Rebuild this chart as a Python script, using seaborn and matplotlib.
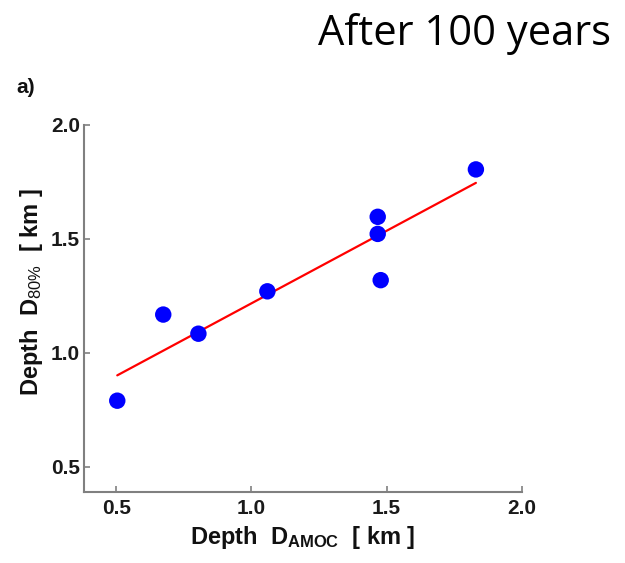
import matplotlib
matplotlib.use("Agg")
import matplotlib.pyplot as plt
import seaborn as sns
import pandas as pd

# Tiefe der AMOC vs. Tiefe D80% (nach 100 Jahren)
depth_amoc = [0.504, 0.674, 0.804, 1.059, 1.467, 1.467, 1.478, 1.830]
depth_80 = [0.790, 1.168, 1.084, 1.270, 1.597, 1.522, 1.319, 1.805]
x_ticks = [0.5, 1.0, 1.5, 2.0]
y_ticks = [0.5, 1.0, 1.5, 2.0]

sns.set_style("white")
plt.rcParams["font.family"] = ["Liberation Sans", "DejaVu Sans"]
plt.rcParams["mathtext.fontset"] = "custom"
plt.rcParams["mathtext.bf"] = "Liberation Sans:bold"
plt.rcParams["mathtext.rm"] = "Liberation Sans"
plt.rcParams["mathtext.it"] = "Liberation Sans:italic"

df = pd.DataFrame({"amoc": depth_amoc, "d80": depth_80})

fig = plt.figure(figsize=(6.25, 5.63), dpi=100)
ax = fig.add_axes([0.1344, 0.126, 0.7006, 0.652])

sns.regplot(data=df, x="amoc", y="d80", ax=ax, ci=None, truncate=True,
            scatter_kws={"s": 140, "color": "#0000ff", "edgecolor": "none", "alpha": 1, "zorder": 3},
            line_kws={"color": "#ff0000", "linewidth": 1.6, "zorder": 2})

ax.set_xlim(0.381, 2.0)
ax.set_ylim(0.389, 2.0)
ax.set_xticks(x_ticks)
ax.set_yticks(y_ticks)
ax.set_xticklabels([f"{v:.1f}" for v in x_ticks], fontsize=15, fontweight="bold", color="#1a1a1a")
ax.set_yticklabels([f"{v:.1f}" for v in y_ticks], fontsize=15, fontweight="bold", color="#1a1a1a")
ax.tick_params(axis="both", direction="in", length=4, width=1.2, color="#808080",
               bottom=True, left=True)
ax.tick_params(axis="x", pad=5)
ax.tick_params(axis="y", pad=3)

for side in ["top", "right"]:
    ax.spines[side].set_visible(False)
for side in ["left", "bottom"]:
    ax.spines[side].set_color("#808080")
    ax.spines[side].set_linewidth(1.5)

ax.set_xlabel(r"Depth  $\mathbf{D_{AMOC}}$  [ km ]", fontsize=17, fontweight="bold", color="#111111", labelpad=4)
ax.set_ylabel(r"Depth  $\mathbf{D}_{\mathit{80\%}}$  [ km ]", fontsize=17, fontweight="bold", color="#111111",
              labelpad=4, y=0.545)

fig.text(0.026, 0.835, "a)", fontsize=15, fontweight="bold", color="#111111")
fig.text(0.744, 0.940, "After 100 years", fontsize=30, ha="center", va="center",
         family=["Open Sans", "DejaVu Sans"], color="black")

fig.savefig("out.png", dpi=100)
